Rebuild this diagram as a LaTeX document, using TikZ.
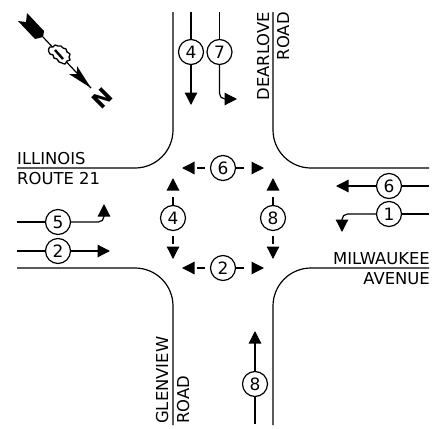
\documentclass[tikz,border=0pt]{standalone}
\usepackage{fontspec}
\setmainfont{DejaVu Sans}
\usetikzlibrary{arrows.meta}
\tikzset{
  road/.style={line width=1.2pt,rounded corners=38pt},
  flow/.style={line width=1.2pt},
  tipped/.style={line width=1.2pt,-{Triangle[length=12.5pt,width=12.5pt]}},
  bent/.style={tipped,rounded corners=5.5pt},
  touching/.style={tipped,dash pattern=on 8pt off 100pt},
  gapped/.style={tipped,dash pattern=on 0pt off 5pt on 8pt off 100pt},
  num/.style={circle,draw,line width=1.2pt,fill=white,minimum size=25pt,inner sep=0pt,font=\fontsize{17}{17}\selectfont},
  lab/.style={inner sep=0pt,font=\fontsize{16.4}{16.4}\selectfont},
}
\begin{document}
\begin{tikzpicture}[x=1pt,y=-1pt]
\useasboundingbox (0,0) rectangle (432,429);
% roads
\coordinate (nwA) at (173,12); \coordinate (nwB) at (173,168); \coordinate (nwC) at (17,168);
\coordinate (neA) at (273,12); \coordinate (neB) at (273,168); \coordinate (neC) at (429,168);
\coordinate (swA) at (17,268); \coordinate (swB) at (173,268); \coordinate (swC) at (173,425);
\coordinate (seA) at (429,268); \coordinate (seB) at (273,268); \coordinate (seC) at (273,425);
\draw[road] (nwA) -- (nwB) -- (nwC);
\draw[road] (neA) -- (neB) -- (neC);
\draw[road] (swA) -- (swB) -- (swC);
\draw[road] (seA) -- (seB) -- (seC);
% north arrow
\coordinate (nS) at (43,37); \coordinate (nT) at (91,88);
\draw[line width=1.2pt] (nS) -- (nT);
\fill (27,13) -- (44,31) -- (43,37) -- (35,39) -- (18,21) -- (26,22) -- cycle;
\fill (91,88) -- (77,66) -- (77,74) -- (69,74) -- cycle;
\draw[fill=white,line width=1.3pt] plot[smooth cycle,tension=0.6] coordinates {(48.5,50) (50,47) (53,47) (55,45) (58,46) (61,46) (63,48) (66,49) (67,52) (70,54) (69,57) (70,60) (67,61) (65,64) (62,63) (59,62) (57,59) (54,58) (53,55) (50,54)};
\draw[line width=2.4pt] (55,50) -- (63,59);
\node[inner sep=0pt,rotate=45,font=\bfseries\fontsize{22}{22}\selectfont] (nN) at (102,98) {N};
% north approach
\coordinate (a4s) at (191,12); \coordinate (a4e) at (191,105);
\coordinate (a7s) at (219.5,12); \coordinate (a7m) at (219.5,99); \coordinate (a7e) at (237,99);
\node[num] (a4) at (191,52) {4};
\node[num] (a7) at (219.5,52) {7};
\draw[flow] (a4s) -- (a4); \draw[tipped] (a4) -- (a4e);
\draw[flow] (a7s) -- (a7); \draw[bent] (a7) -- (a7m) -- (a7e);
% west approach
\coordinate (w5s) at (17,222); \coordinate (w5m) at (104,222); \coordinate (w5e) at (104,204);
\coordinate (w2s) at (17,251); \coordinate (w2e) at (110,251);
\node[num] (w5) at (58,222) {5};
\node[num] (w2) at (58,251) {2};
\draw[flow] (w5s) -- (w5); \draw[bent] (w5) -- (w5m) -- (w5e);
\draw[flow] (w2s) -- (w2); \draw[tipped] (w2) -- (w2e);
% east approach
\coordinate (e6s) at (429,186); \coordinate (e6e) at (336,186);
\coordinate (e1s) at (429,214); \coordinate (e1m) at (342,214); \coordinate (e1e) at (342,232);
\node[num] (e6) at (389,186) {6};
\node[num] (e1) at (389,214) {1};
\draw[flow] (e6s) -- (e6); \draw[tipped] (e6) -- (e6e);
\draw[flow] (e1s) -- (e1); \draw[bent] (e1) -- (e1m) -- (e1e);
% south approach
\coordinate (s8s) at (255,424); \coordinate (s8e) at (255,331);
\node[num] (s8) at (255,384) {8};
\draw[flow] (s8s) -- (s8); \draw[tipped] (s8) -- (s8e);
% pedestrian crossings
\node[num] (p6) at (223,168) {6};
\node[num] (p2) at (223,268) {2};
\node[num] (p4) at (173,218) {4};
\node[num] (p8) at (273,218) {8};
\coordinate (p6l) at (182,168); \coordinate (p6r) at (264,168);
\coordinate (p2l) at (182,268); \coordinate (p2r) at (264,268);
\coordinate (p4u) at (173,178); \coordinate (p4d) at (173,259);
\coordinate (p8u) at (273,178); \coordinate (p8d) at (273,259);
\draw[gapped] (p6) -- (p6l); \draw[touching] (p6) -- (p6r);
\draw[gapped] (p2) -- (p2l); \draw[touching] (p2) -- (p2r);
\draw[touching] (p4) -- (p4u); \draw[gapped] (p4) -- (p4d);
\draw[touching] (p8) -- (p8u); \draw[gapped] (p8) -- (p8d);
% labels
\node[lab,anchor=base west] (l1) at (17,164) {ILLINOIS};
\node[lab,anchor=base west] (l2) at (17,184) {ROUTE 21};
\node[lab,anchor=base east] (l3) at (430,264) {MILWAUKEE};
\node[lab,anchor=base east] (l4) at (430,284) {AVENUE};
\node[lab,anchor=base east,rotate=90] (l5) at (269,12) {DEARLOVE};
\node[lab,anchor=base east,rotate=90] (l6) at (289,12) {ROAD};
\node[lab,anchor=base west,rotate=90] (l7) at (168,424) {GLENVIEW};
\node[lab,anchor=base west,rotate=90] (l8) at (189,424) {ROAD};
\end{tikzpicture}
\end{document}
